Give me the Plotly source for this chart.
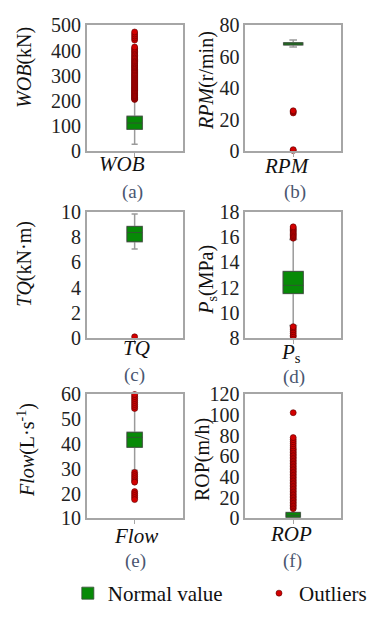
import plotly.graph_objects as go

# ---------------- data ----------------
panels = ["WOB", "RPM", "TQ", "Ps", "Flow", "ROP"]

q1_vals = [86, 67.6, 7.63, 11.53, 38.6, 1.3]
median_vals = [111, 68.3, 8.35, 12.17, 42.6, 3.1]
q3_vals = [138, 69.0, 8.83, 13.27, 44.6, 5.8]
lower_fence = [26, 66.3, 7.05, 9.0, 29.4, 0.0]
upper_fence = [205, 70.8, 9.82, 15.8, 53.7, 9.0]

outliers_wob = [205, 208, 212, 215, 219, 222, 226, 230, 234, 238, 241, 245, 249, 252,
                256, 260, 264, 268, 272, 276, 280, 284, 288, 292, 296, 300, 304, 308,
                312, 317, 321, 325, 330, 334, 338, 342, 347, 351, 356, 360, 365, 370,
                375, 380, 386, 391, 397, 402, 408, 414, 442, 450, 458, 466, 474]
outliers_rpm = [24.2, 25.0, 25.6, 0.3, 0.8]
outliers_tq = [0.1]
outliers_ps = [15.9, 16.0, 16.1, 16.2, 16.3, 16.4, 16.5, 16.6, 16.7, 16.8,
               8.1, 8.2, 8.35, 8.5, 8.65, 8.8, 8.9]
outliers_flow = [54.2, 55.0, 55.8, 56.6, 57.4, 58.2, 59.0, 59.8,
                 28.5, 27.6, 26.8, 26.0, 25.2, 24.6,
                 20.8, 20.0, 19.2, 18.4, 17.6]
outliers_rop = [9.5, 11, 12.5, 14, 15.5, 17, 18.5, 20, 21.5, 23, 24.5, 26, 27.5, 29,
                30.5, 32, 33.5, 35, 36.5, 38, 39.5, 41, 42.5, 44, 45.5, 47, 48.5, 50,
                51.5, 53, 54.5, 56, 57.5, 59, 60.5, 62, 63.5, 65, 66.5, 68, 70, 72,
                74, 76, 78, 102]
outliers = [outliers_wob, outliers_rpm, outliers_tq, outliers_ps, outliers_flow, outliers_rop]

x_labels = ["<i>WOB</i>", "<i>RPM</i>", "<i>TQ</i>", "<i>P</i><sub>s</sub>",
            "<i>Flow</i>", "<i>ROP</i>"]
y_titles = ["<i>WOB</i>(kN)", "<i>RPM</i>(r/min)", "<i>TQ</i>(kN·m)",
            "<i>P</i><sub>s</sub>(MPa)", "<i>Flow</i>(L·s<sup>-1</sup>)", "ROP(m/h)"]
sub_labels = ["(a)", "(b)", "(c)", "(d)", "(e)", "(f)"]
y_ranges = [[0, 500], [0, 80], [0, 10], [8, 18], [10, 60], [0, 120]]
y_dticks = [100, 20, 2, 2, 10, 20]

# ---------------- layout geometry ----------------
W, H = 372, 625
col_px = [(87, 183), (246, 342)]
row_px = [(15, 145), (208, 339), (397, 526)]
box_widths = [0.16, 0.2, 0.16, 0.21, 0.16, 0.15]
ytitle_pos = [(25, 58), (207, 72), (25, 262), (208, 278), (27, 455), (203, 465)]
xlabel_pos = [(122, 159), (288, 161), (137, 349), (292, 354), (136, 544), (292, 542)]
sub_pos = [(133, 188), (296, 188), (135, 377), (295, 379), (136, 570), (293, 570)]

FONT = "Times New Roman"
GREEN = "#078a07"
RED = "#d30000"

legend_common = dict(orientation="h", xanchor="left", y=0, yanchor="bottom",
                     font=dict(family=FONT, size=21, color="#111"), itemwidth=30,
                     bgcolor="rgba(0,0,0,0)")

fig = go.Figure()
layout = dict(
    width=W, height=H, margin=dict(l=0, r=0, t=0, b=0),
    paper_bgcolor="white", plot_bgcolor="white",
    font=dict(family=FONT, size=18, color="#1f1f1f"),
    showlegend=True,
    legend=dict(x=68 / W, **legend_common),
    legend2=dict(x=260 / W, **legend_common),
)
annotations = []

for i, name in enumerate(panels):
    r, c = divmod(i, 2)
    ax = "" if i == 0 else str(i + 1)
    xa, ya = "x" + ax, "y" + ax
    x0, x1 = col_px[c]
    y0, y1 = row_px[r]
    layout["xaxis" + ax] = dict(
        domain=[x0 / W, x1 / W], anchor=ya, range=[-0.5, 0.5],
        tickvals=[0], showticklabels=False,
        showline=True, mirror=True, linecolor="#a6a6a6", linewidth=1.5,
        ticks="outside", ticklen=4, tickcolor="#a6a6a6", showgrid=False, zeroline=False,
    )
    layout["yaxis" + ax] = dict(
        domain=[1 - y1 / H, 1 - y0 / H], anchor=xa, range=y_ranges[i],
        dtick=y_dticks[i], tick0=y_ranges[i][0],
        showline=True, mirror=True, linecolor="#a6a6a6", linewidth=1.5,
        ticks="", showgrid=False, zeroline=False,
        tickfont=dict(family=FONT, size=20, color="#222"),
    )
    # whiskers + box (gray whiskers)
    fig.add_trace(go.Box(
        x=[0], q1=[q1_vals[i]], median=[median_vals[i]], q3=[q3_vals[i]],
        lowerfence=[lower_fence[i]], upperfence=[upper_fence[i]],
        orientation="v", width=box_widths[i], whiskerwidth=0.4,
        fillcolor=GREEN, line=dict(color="#9a9a9a", width=1.5),
        boxpoints=False, name="Normal value", showlegend=False,
        xaxis=xa, yaxis=ya, hoverinfo="skip",
    ))
    # box body with dark outline
    fig.add_trace(go.Box(
        x=[0], q1=[q1_vals[i]], median=[median_vals[i]], q3=[q3_vals[i]],
        lowerfence=[q1_vals[i]], upperfence=[q3_vals[i]],
        orientation="v", width=box_widths[i], whiskerwidth=0,
        fillcolor=GREEN, line=dict(color="#3a4a3a", width=0.8),
        boxpoints=False, name="Normal value", showlegend=(i == 0), legend="legend",
        xaxis=xa, yaxis=ya, hoverinfo="skip",
    ))
    fig.add_trace(go.Scatter(
        x=[0] * len(outliers[i]), y=outliers[i], mode="markers",
        marker=dict(color=RED, size=6, line=dict(color="#5a0000", width=0.6)),
        name="Outliers", showlegend=(i == 0), legend="legend2", cliponaxis=False,
        xaxis=xa, yaxis=ya, hoverinfo="skip",
    ))
    tx, ty = ytitle_pos[i]
    annotations.append(dict(
        x=tx / W, y=1 - ty / H, xref="paper", yref="paper", text=y_titles[i],
        textangle=-90, showarrow=False, xanchor="center", yanchor="middle",
        font=dict(family=FONT, size=20, color="#111"),
    ))
    lx, ly = xlabel_pos[i]
    annotations.append(dict(
        x=lx / W, y=1 - ly / H, xref="paper", yref="paper",
        text=x_labels[i], showarrow=False, xanchor="center", yanchor="middle",
        font=dict(family=FONT, size=21, color="#111"),
    ))
    sx, sy = sub_pos[i]
    annotations.append(dict(
        x=sx / W, y=1 - sy / H, xref="paper", yref="paper",
        text=sub_labels[i], showarrow=False, xanchor="center", yanchor="middle",
        font=dict(family=FONT, size=19, color="#4a5670"),
    ))

layout["annotations"] = annotations
fig.update_layout(**layout)
fig.write_html("out.html")
